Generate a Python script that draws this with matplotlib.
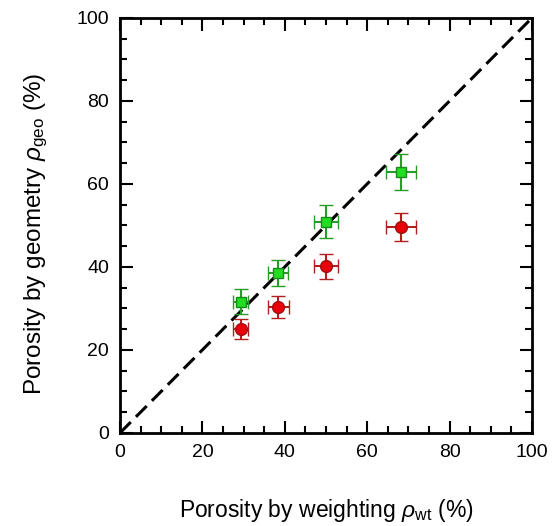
import matplotlib
matplotlib.use("Agg")
import matplotlib.pyplot as plt
from matplotlib.ticker import MultipleLocator

plt.rcParams['font.family'] = ['Liberation Sans', 'DejaVu Sans']
plt.rcParams['mathtext.fontset'] = 'custom'
plt.rcParams['mathtext.rm'] = 'Liberation Sans'
plt.rcParams['mathtext.it'] = 'Liberation Sans:italic'

# porosity by weighting (x) and by geometry (y), in %
p_wt = [29.3, 38.4, 50.0, 68.2]
p_wt_err = [1.8, 2.4, 2.9, 3.7]
geo_green = [31.6, 38.5, 50.9, 62.8]
geo_green_err = [3.0, 3.2, 3.9, 4.3]
geo_red = [25.1, 30.3, 40.1, 49.6]
geo_red_err = [2.4, 2.6, 3.0, 3.3]
p_wt_err_red = [1.8, 2.5, 2.8, 3.7]

fig = plt.figure(figsize=(5.53, 5.26), dpi=100)
ax = fig.add_axes([0.217, 0.177, 0.745, 0.789])

# 1:1 line
ax.plot([0, 100], [0, 100], color='black', lw=2.2, ls=(0, (5, 2.4)), zorder=1)

ax.errorbar(p_wt, geo_red, xerr=p_wt_err_red, yerr=geo_red_err, fmt='o',
            ms=8.5, mfc='#e8000b', mec='#a01010', mew=1.0,
            ecolor='#b02020', elinewidth=1.5, capsize=5, capthick=1.5, zorder=3)
ax.errorbar(p_wt, geo_green, xerr=p_wt_err, yerr=geo_green_err, fmt='s',
            ms=7.5, mfc='#22dd22', mec='#1a8a1a', mew=1.0,
            ecolor='#2a9a2a', elinewidth=1.5, capsize=5, capthick=1.5, zorder=4)

ax.set_xlim(0, 100)
ax.set_ylim(0, 100)
ax.xaxis.set_major_locator(MultipleLocator(20))
ax.xaxis.set_minor_locator(MultipleLocator(5))
ax.yaxis.set_major_locator(MultipleLocator(20))
ax.yaxis.set_minor_locator(MultipleLocator(5))
ax.tick_params(which='both', direction='in', top=True, right=True, width=1.5,
               labelsize=14, pad=8)
ax.tick_params(which='major', length=9)
ax.tick_params(which='minor', length=5)
for s in ax.spines.values():
    s.set_linewidth(2)

ax.set_xlabel(r'Porosity by weighting $\it{\rho}_{\rm{wt}}$ (%)', fontsize=16.5, labelpad=26)
ax.set_ylabel(r'Porosity by geometry $\it{\rho}_{\rm{geo}}$ (%)', fontsize=17.5, labelpad=20)
ax.yaxis.set_label_coords(-0.17, 0.48)

fig.savefig('out.png', dpi=100)
